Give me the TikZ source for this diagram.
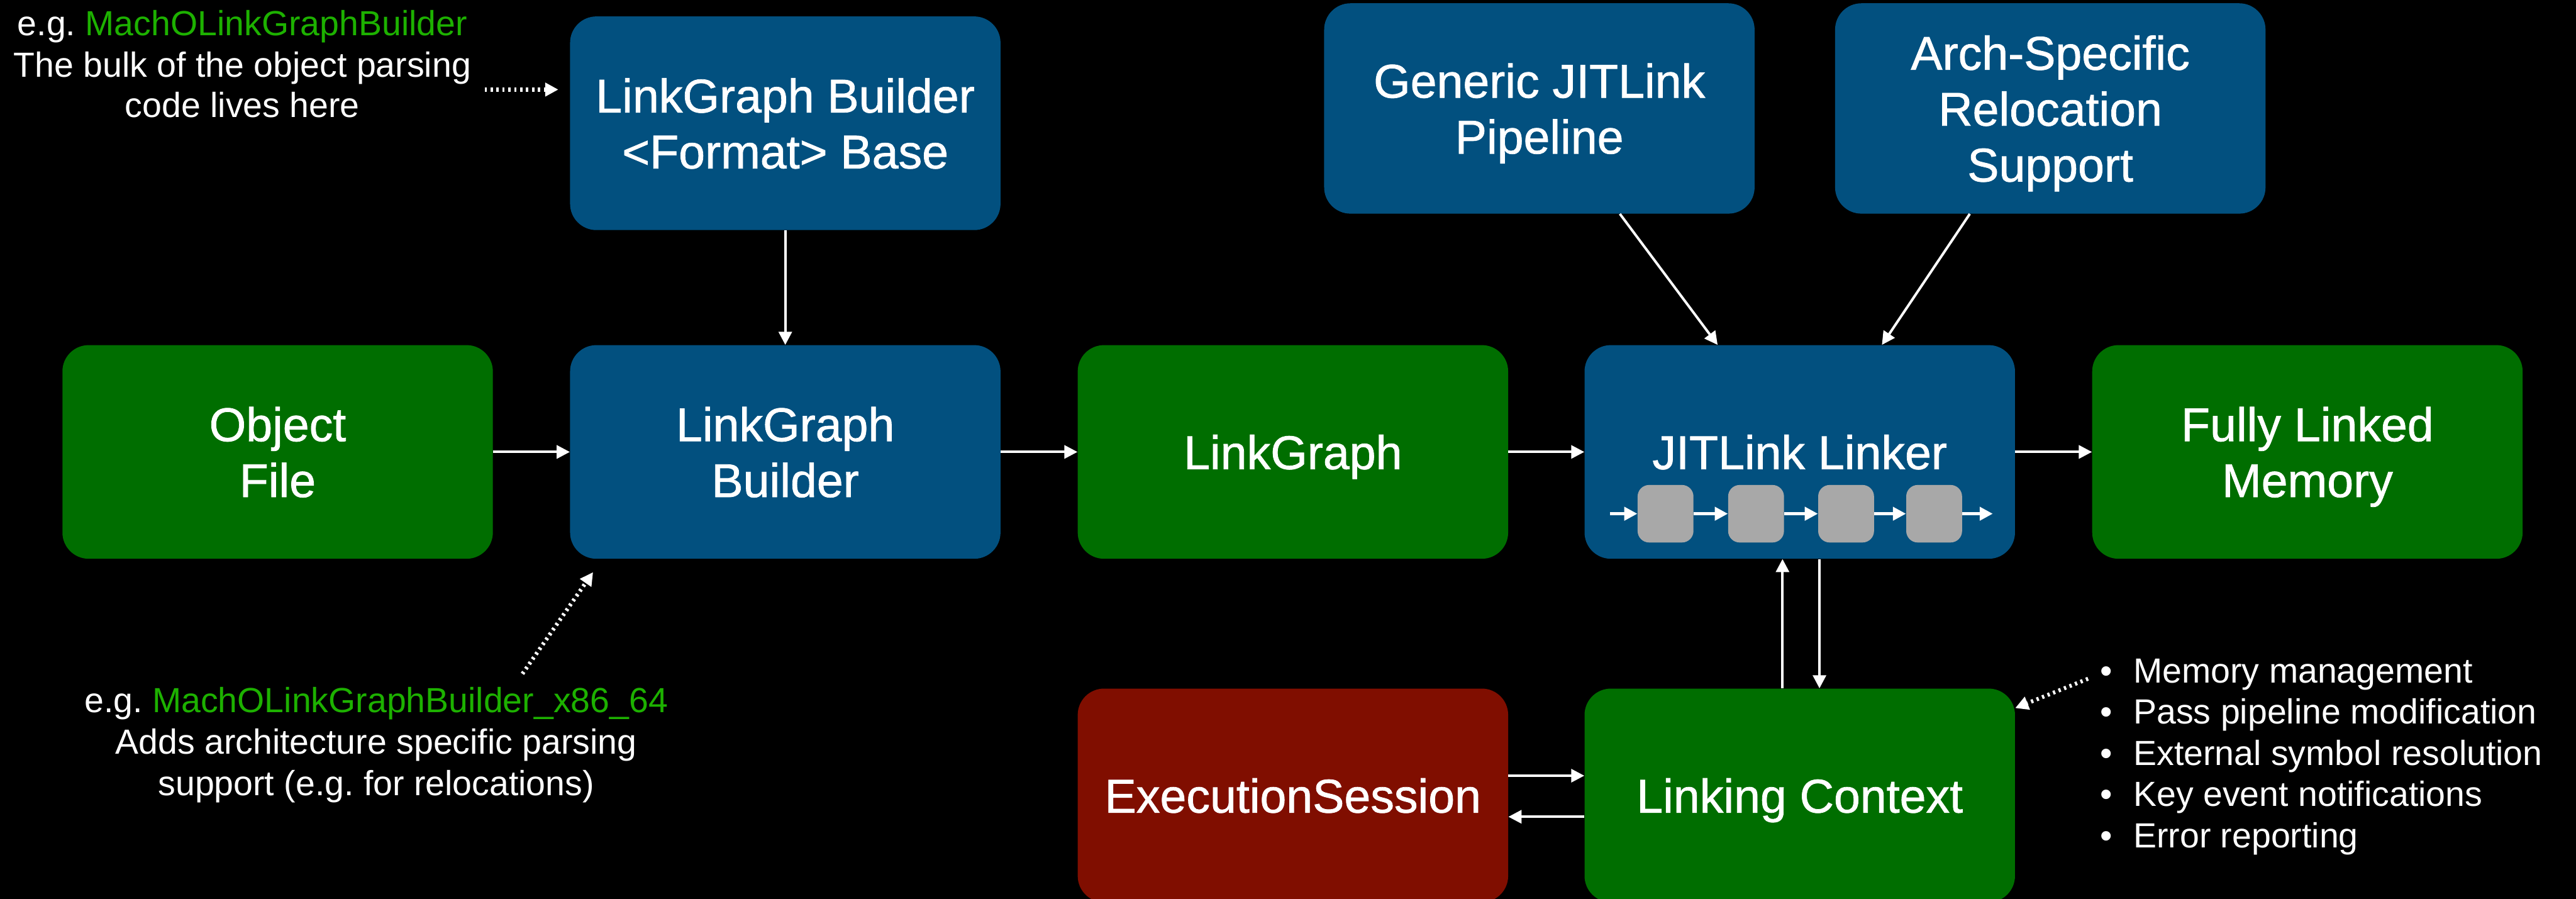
\documentclass[tikz,border=0pt]{standalone}
\usepackage{fontspec}
\setmainfont{Liberation Sans}
\newfontfamily\labelfont{Liberation Sans}[FakeBold=1]
\usetikzlibrary{arrows.meta,calc}
\definecolor{jblue}{HTML}{02507F}
\definecolor{jgreen}{HTML}{006E00}
\definecolor{jred}{HTML}{800E00}
\definecolor{jgray}{HTML}{A8A8A8}
\definecolor{egreen}{HTML}{1DB100}
\begin{document}
\begin{tikzpicture}[x=0.5mm,y=-0.5mm,
  box/.style={rounded corners=8mm, minimum width=131mm, minimum height=65mm, inner sep=0pt, text=white, align=center, text depth=0pt, font=\labelfont\fontsize{41}{48.4}\selectfont},
  bluebox/.style={box, fill=jblue},
  greenbox/.style={box, fill=jgreen},
  redbox/.style={box, fill=jred},
  stage/.style={fill=jgray, rounded corners=3.5mm, minimum width=17mm, minimum height=17.5mm, inner sep=0pt},
  conn/.style={draw=white, line width=0.75mm, -{Triangle[length=4mm,width=4mm]}},
  pipe/.style={draw=white, line width=1mm, -{Triangle[length=4mm,width=4mm]}},
  note/.style={draw=white, line width=1.2mm, dash pattern=on 0.7mm off 1.1mm, -{Triangle[length=4mm,width=4mm]}},
  anno/.style={text=white, font=\fontsize{30.2}{35.6}\selectfont\frenchspacing, inner sep=0pt, anchor=base}
]
\useasboundingbox (0,0) rectangle (1568,547);
\fill[black] (0,0) rectangle (1568,547);

% main boxes
\node[bluebox] (base) at (478,75) {LinkGraph Builder\\<Format> Base};
\node[bluebox, minimum height=64mm] (gen) at (937,66) {Generic JITLink\\Pipeline};
\node[bluebox, minimum height=64mm] (arch) at (1248,66) {Arch-Specific\\Relocation\\Support};
\node[greenbox] (obj) at (169,275) {Object\\File};
\node[bluebox] (lgb) at (478,275) {LinkGraph\\Builder};
\node[greenbox] (lg) at (787,275) {LinkGraph};
\node[bluebox] (jit) at (1095.5,275) {JITLink Linker};
\node[greenbox] (flm) at (1404.5,275) {Fully Linked\\Memory};
\node[redbox] (es) at (787,484) {ExecutionSession};
\node[greenbox] (lc) at (1095.5,484) {Linking Context};

% pipeline stages
\foreach \i/\x in {1/1013.8, 2/1068.9, 3/1123.7, 4/1177.3}
  \node[stage] (s\i) at (\x,312.6) {};
\coordinate (pin) at (980,312.6);
\coordinate (pout) at (1213,312.6);
\draw[pipe] (pin) -- (s1.west);
\draw[pipe] (s1.east) -- (s2.west);
\draw[pipe] (s2.east) -- (s3.west);
\draw[pipe] (s3.east) -- (s4.west);
\draw[pipe] (s4.east) -- (pout);

% connectors
\draw[conn] (obj.east) -- (lgb.west);
\draw[conn] (lgb.east) -- (lg.west);
\draw[conn] (lg.east) -- (jit.west);
\draw[conn] (jit.east) -- (flm.west);
\draw[conn] (base.south) -- (lgb.north);
\draw[conn] ([xshift=24.5mm]gen.south) -- ([xshift=-25mm]jit.north);
\draw[conn] ([xshift=-24.5mm]arch.south) -- ([xshift=25mm]jit.north);
\draw[conn] ([xshift=-5.25mm]lc.north) -- ([xshift=-5.25mm]jit.south);
\draw[conn] ([xshift=6mm]jit.south) -- ([xshift=6mm]lc.north);
\draw[conn] ([yshift=6mm]es.east) -- ([yshift=6mm]lc.west);
\draw[conn] ([yshift=-6.5mm]lc.west) -- ([yshift=-6.5mm]es.east);

% annotations
\node[anno] (t1) at (147.5,21.8) {e.g. \textcolor{egreen}{MachOLinkGraphBuilder}};
\node[anno] (t2) at (147.5,46.8) {The bulk of the object parsing};
\node[anno] (t3) at (147.5,71.3) {code lives here};
\node[anno] (b1) at (229,433.5) {e.g. \textcolor{egreen}{MachOLinkGraphBuilder\_x86\_64}};
\node[anno] (b2) at (229,458.8) {Adds architecture specific parsing};
\node[anno] (b3) at (229,483.9) {support (e.g. for relocations)};
\foreach \n/\y/\t in {1/415.5/Memory management, 2/440.5/Pass pipeline modification, 3/465.6/External symbol resolution, 4/490.7/Key event notifications, 5/515.7/Error reporting}{
  \node[anno] (bul\n) at (1282,\y) {\textbullet};
  \node[anno, anchor=base west] (li\n) at (1298.5,\y) {\t};
}

% dotted pointers
\coordinate (n1) at (295,54.5);
\draw[note] (n1) -- ($(base.west |- n1)+(-7,0)$);
\coordinate (n2) at (318,410);
\draw[note] (n2) -- ($(lgb.south)+(-117,8)$);
\coordinate (n3) at (1271,413);
\draw[note] (n3) -- ($(lc.north east)+(0,12)$);
\end{tikzpicture}
\end{document}
